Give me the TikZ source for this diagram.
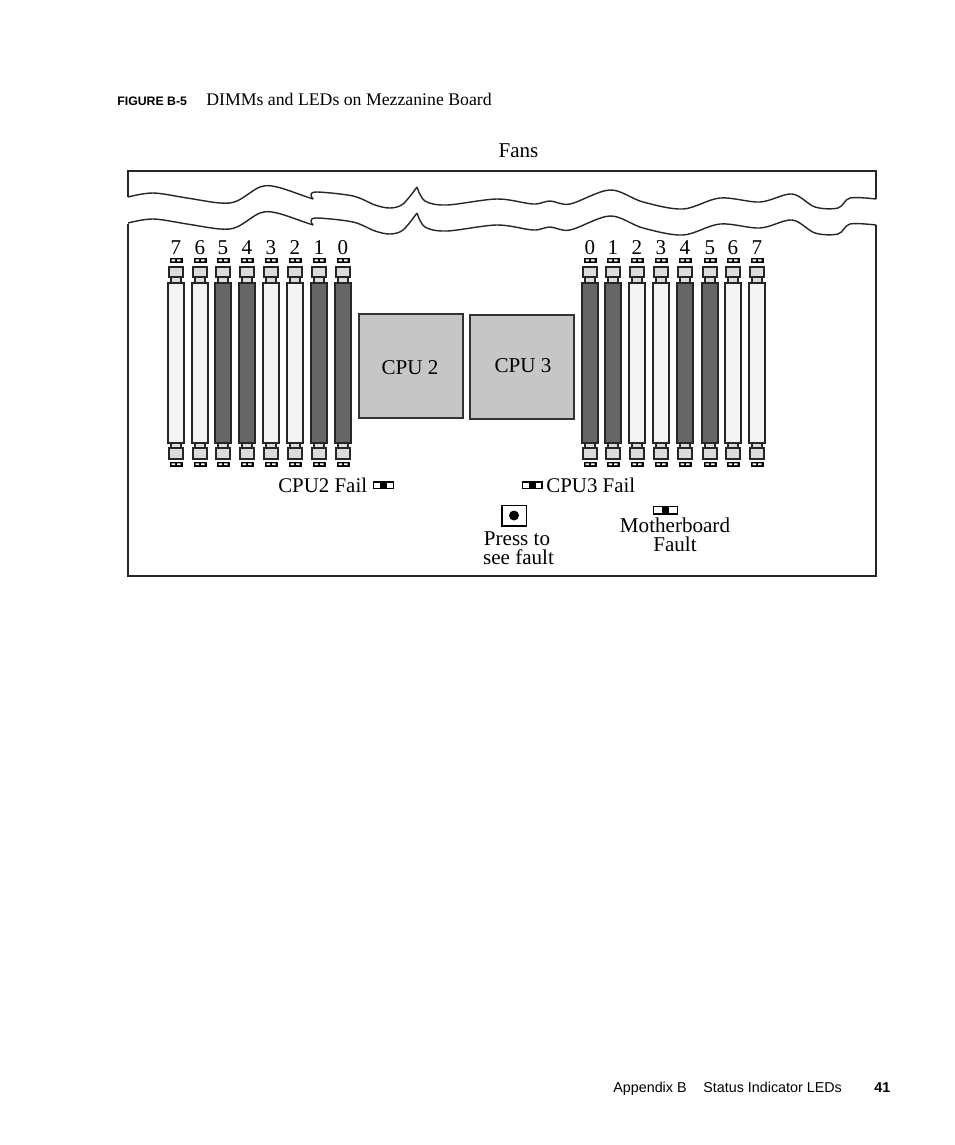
\documentclass[tikz,border=0pt]{standalone}
\usepackage{fontspec}
\setmainfont{Liberation Serif}
\setsansfont{Liberation Sans}
\tikzset{
    boardline/.style={line width=0.85pt,draw=black!85},
    slotline/.style={line width=1pt,draw=black!85},
    cpubox/.style={line width=0.7pt,draw=black!80,fill=cpugray},
    boardtext/.style={inner sep=0pt,font=\fontsize{12}{10.3}\selectfont,align=center},
    failtext/.style={inner sep=0pt,font=\fontsize{11.9}{14}\selectfont},
    pagetext/.style={inner sep=0pt,anchor=base west,font=\sffamily\fontsize{8.15}{10}\selectfont},
}
\definecolor{cpugray}{HTML}{C6C6C6}
\definecolor{dimmdark}{HTML}{666666}
\definecolor{dimmlight}{HTML}{F4F4F4}
\definecolor{latchgray}{HTML}{DCDCDC}
\begin{document}
\begin{tikzpicture}[x=0.02cm,y=-0.02cm]
    \useasboundingbox (0,0) rectangle (954,1145);
    %% caption
    \node[pagetext,font=\sffamily\bfseries\fontsize{7}{8}\selectfont] (figno) at (117,105.5) {FIGURE B-5};
    \node[pagetext,font=\fontsize{10.1}{11}\selectfont] (figtitle) at (206,105.5) {DIMMs and LEDs on Mezzanine Board};
    \node[boardtext] (fans) at (518.5,151) {Fans};
    %% board outline
    \draw[boardline] (128,197) -- (128,171) -- (876,171) -- (876,199);
    \draw[boardline] (128,224) -- (128,576) -- (876,576) -- (876,225);
    %% torn edges
    \foreach \dy in {0,26} {
        \draw[boardline,line width=0.8pt,shift={(0,\dy)}] plot[smooth,tension=0.55] coordinates {
            (128,197) (153,193) (187,198) (220,203) (237,201) (260,187) (277,187) (307,197) (313,199)};
        \draw[boardline,line width=0.8pt,shift={(0,\dy)}] plot[smooth,tension=0.55] coordinates {
            (313,199) (311,195) (317,192) (353,196) (375,205) (390,208) (403,204) (417,187)};
        \draw[boardline,line width=0.8pt,shift={(0,\dy)}] plot[smooth,tension=0.55] coordinates {
            (417,187) (425,201) (447,205) (497,199) (533,204) (550,201) (570,204) (610,190) (643,202) (683,209) (720,198) (760,202) (792,194) (815,207) (838,208) (850,198) (876,199)};
    }
    %% memory slots
    \foreach \x/\c/\n in {176/dimmlight/7,200/dimmlight/6,223/dimmdark/5,247/dimmdark/4,
                          271/dimmlight/3,295/dimmlight/2,319/dimmdark/1,343/dimmdark/0,
                          590/dimmdark/0,613/dimmdark/1,637/dimmlight/2,661/dimmlight/3,
                          685/dimmdark/4,710/dimmdark/5,733/dimmlight/6,757/dimmlight/7} {
        \node[boardtext] (num\x) at (\x,247.5) {\n};
        %% top end
        \fill[black] ({\x-6.5},258) rectangle ({\x+6.5},263);
        \fill[white] ({\x-4.5},259.5) rectangle ({\x-1},261.5) ({\x+1},259.5) rectangle ({\x+4.5},261.5);
        \draw[slotline,fill=latchgray] ({\x-5},277) rectangle ({\x+5},283);
        \draw[slotline,fill=latchgray] ({\x-7},267) rectangle ({\x+7},277);
        %% bottom end
        \draw[slotline,fill=latchgray] ({\x-5},443) rectangle ({\x+5},448);
        \draw[slotline,fill=latchgray] ({\x-7},448) rectangle ({\x+7},459);
        \fill[black] ({\x-6.5},462) rectangle ({\x+6.5},466.5);
        \fill[white] ({\x-4.5},463.3) rectangle ({\x-1},465) ({\x+1},463.3) rectangle ({\x+4.5},465);
        %% dimm body
        \draw[slotline,fill=\c] ({\x-8},283) rectangle ({\x+8},443);
    }
    %% cpus
    \draw[cpubox] (359,314) rectangle (463,418);
    \draw[cpubox] (470,315) rectangle (574,419);
    \node[boardtext] (cputwo) at (410,367.5) {CPU 2};
    \node[boardtext] (cputhree) at (523,366) {CPU 3};
    %% fail leds
    \node[failtext,anchor=east] (failtwo) at (367.5,485.5) {CPU2 Fail};
    \draw[line width=0.9pt,fill=white] (373.5,482) rectangle (393.5,488.5);
    \fill[black] (380,482) rectangle (387,488.5);
    \node[failtext,anchor=west] (failthree) at (546,485.5) {CPU3 Fail};
    \draw[line width=0.9pt,fill=white] (522.5,482) rectangle (542,488.5);
    \fill[black] (529,482) rectangle (536,488.5);
    %% fault button
    \draw[line width=0.9pt] (502,505.5) rectangle (526.5,526);
    \fill[black] (514,515.5) circle (5);
    \node[boardtext] (pressone) at (517,539) {Press to};
    \node[boardtext] (presstwo) at (518.5,557) {see fault};
    %% motherboard led
    \draw[line width=0.9pt,fill=white] (653.5,506.5) rectangle (677.5,514);
    \fill[black] (662,506.5) rectangle (669,514);
    \node[boardtext] (mbname) at (675,525.5) {Motherboard};
    \node[boardtext] (mbfault) at (675,544.5) {Fault};
    %% footer
    \node[pagetext] (appendix) at (613,1092) {Appendix B};
    \node[pagetext] (status) at (703,1092) {Status Indicator LEDs};
    \node[pagetext,font=\sffamily\bfseries\fontsize{8.15}{10}\selectfont] (pageno) at (874,1092) {41};
\end{tikzpicture}
\end{document}
